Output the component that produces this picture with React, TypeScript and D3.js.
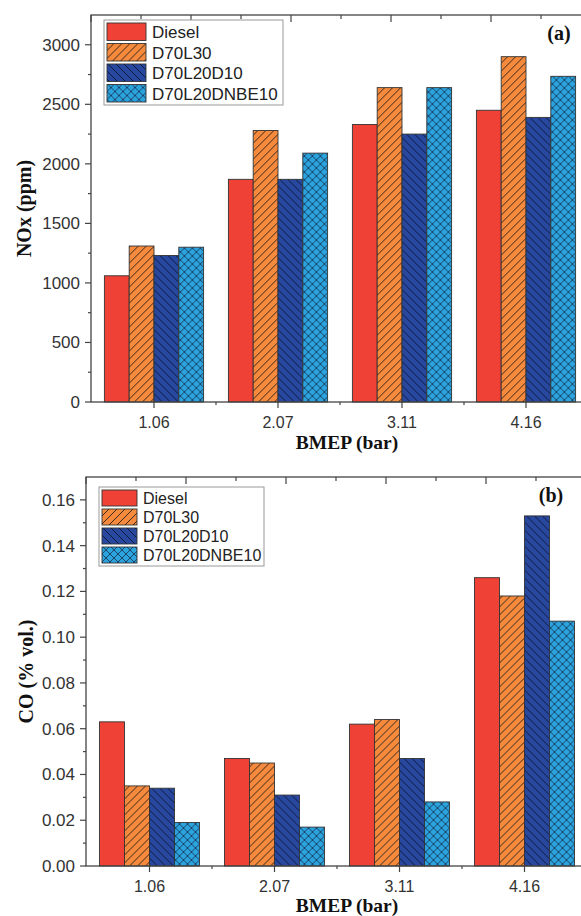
import React from 'react';
import * as d3 from 'd3';

const bmep = ['1.06', '2.07', '3.11', '4.16'];
const series = ['Diesel', 'D70L30', 'D70L20D10', 'D70L20DNBE10'];

// NOx (ppm)
const noxDiesel = [1060, 1870, 2330, 2450];
const noxD70L30 = [1310, 2280, 2640, 2900];
const noxD70L20D10 = [1230, 1870, 2250, 2390];
const noxD70L20DNBE10 = [1300, 2090, 2640, 2735];

// CO (% vol.)
const coDiesel = [0.063, 0.047, 0.062, 0.126];
const coD70L30 = [0.035, 0.045, 0.064, 0.118];
const coD70L20D10 = [0.034, 0.031, 0.047, 0.153];
const coD70L20DNBE10 = [0.019, 0.017, 0.028, 0.107];

const noxTicks = [0, 500, 1000, 1500, 2000, 2500, 3000];
const coTicks = [0, 0.02, 0.04, 0.06, 0.08, 0.1, 0.12, 0.14, 0.16];

const fills = ['#ef4136', 'url(#hatchFwd)', 'url(#hatchBack)', 'url(#hatchCross)'];
const axisColor = '#444';
const sans = '"Liberation Sans", Arial, sans-serif';
const serif = '"Liberation Serif", "Times New Roman", serif';

function Panel({ values, yMax, ticks, minorStep, fmt, left, right, top, bottom, yTitle, yTitleX, tag, tagX, tagY, legend, titleY }) {
  const x = d3.scaleBand().domain(bmep).range([left + 1, right]).paddingInner(0.2).paddingOuter(0.1);
  const xs = d3.scaleBand().domain(series).range([0, x.bandwidth()]);
  const y = d3.scaleLinear().domain([0, yMax]).range([bottom, top]);
  const topScale = d3.scaleLinear().domain([0, 5]).range([left, left + 500]);
  const minors = d3.range(minorStep, yMax, minorStep * 2);
  const boundaries = bmep.slice(1).map(c => x(c) - (x.step() - x.bandwidth()) / 2);

  return (
    <g>
      {/* bars */}
      {bmep.map((c, i) => (
        <g key={c} transform={`translate(${x(c)},0)`}>
          {series.map((s, j) => (
            <rect key={s} x={xs(s)} y={y(values[j][i])} width={xs.bandwidth()} height={bottom - y(values[j][i])}
              fill={fills[j]} stroke="#333" strokeWidth={0.9} />
          ))}
        </g>
      ))}

      {/* frame */}
      <rect x={left} y={top} width={right + 1 - left} height={bottom - top} fill="none" stroke={axisColor} strokeWidth={1.3} />

      {/* left axis */}
      {ticks.map(t => (
        <g key={t}>
          <line x1={left - 6} x2={left} y1={y(t)} y2={y(t)} stroke={axisColor} strokeWidth={1.2} />
          <text x={left - 11} y={y(t) + 6} textAnchor="end" fontFamily={sans} fontSize={17} fill="#333">{fmt(t)}</text>
        </g>
      ))}
      {minors.map(t => (
        <line key={t} x1={left - 3} x2={left} y1={y(t)} y2={y(t)} stroke={axisColor} strokeWidth={1.2} />
      ))}

      {/* bottom axis */}
      {bmep.map(c => (
        <g key={c}>
          <line x1={x(c) + x.bandwidth() / 2} x2={x(c) + x.bandwidth() / 2} y1={bottom} y2={bottom + 6} stroke={axisColor} strokeWidth={1.2} />
          <text x={x(c) + x.bandwidth() / 2} y={bottom + 25.5} textAnchor="middle" fontFamily={sans} fontSize={16} fill="#333">{c}</text>
        </g>
      ))}
      {boundaries.map((b, i) => (
        <line key={i} x1={b} x2={b} y1={bottom} y2={bottom + 3} stroke={axisColor} strokeWidth={1.2} />
      ))}

      {/* top axis ticks */}
      {d3.range(0, 5.01, 0.5).map(t => (
        <line key={t} x1={topScale(t)} x2={topScale(t)} y1={top} y2={top + (t % 1 === 0 ? 7 : 4)} stroke={axisColor} strokeWidth={1.2} />
      ))}

      {/* titles */}
      <text transform={`translate(${yTitleX},${(top + bottom) / 2}) rotate(-90)`} textAnchor="middle"
        fontFamily={serif} fontWeight="bold" fontSize={20} fill="#111">{yTitle}</text>
      <text x={347} y={titleY} textAnchor="middle" fontFamily={serif} fontWeight="bold" fontSize={19.5} fill="#111">BMEP (bar)</text>
      <text x={tagX} y={tagY} textAnchor="middle" fontFamily={serif} fontWeight="bold" fontSize={20} fill="#111">{tag}</text>

      {/* legend */}
      <g>
        <rect x={legend.x} y={legend.y} width={legend.w} height={legend.rowH * 4 + 3} fill="#fff" stroke="#999" strokeWidth={1} />
        {series.map((s, j) => (
          <g key={s} transform={`translate(${legend.x + 3},${legend.y + 2 + j * legend.rowH})`}>
            <rect x={0} y={1} width={legend.sw} height={legend.rowH - 3} fill={fills[j]} stroke="#333" strokeWidth={0.9} />
            <text x={legend.sw + 6} y={legend.rowH / 2 + legend.fs * 0.36} fontFamily={sans} fontSize={legend.fs} fill="#222">{s}</text>
          </g>
        ))}
      </g>
    </g>
  );
}

export default function App() {
  return (
    <svg width={581} height={916} style={{ position: 'absolute', left: 0, top: 0, background: '#fff' }}>
      <defs>
        <pattern id="hatchFwd" patternUnits="userSpaceOnUse" width={8} height={8}>
          <rect width={8} height={8} fill="#f58a3c" />
          <path d="M-2,2 L2,-2 M0,8 L8,0 M6,10 L10,6" stroke="#3b2a1c" strokeWidth={1} />
        </pattern>
        <pattern id="hatchBack" patternUnits="userSpaceOnUse" width={8} height={8}>
          <rect width={8} height={8} fill="#27489e" />
          <path d="M-2,6 L2,10 M0,0 L8,8 M6,-2 L10,2" stroke="#0e1b40" strokeWidth={1} />
        </pattern>
        <pattern id="hatchCross" patternUnits="userSpaceOnUse" width={8} height={8}>
          <rect width={8} height={8} fill="#2ba3dd" />
          <path d="M-2,2 L2,-2 M0,8 L8,0 M6,10 L10,6 M-2,6 L2,10 M0,0 L8,8 M6,-2 L10,2" stroke="#1a3a5c" strokeWidth={0.9} />
        </pattern>
      </defs>
      <Panel
        values={[noxDiesel, noxD70L30, noxD70L20D10, noxD70L20DNBE10]}
        yMax={3250} ticks={noxTicks} minorStep={250} fmt={d3.format('d')}
        left={91} right={588} top={15} bottom={402}
        yTitle="NOx (ppm)" yTitleX={31} tag="(a)" tagX={559} tagY={40}
        titleY={449}
        legend={{ x: 104, y: 20, w: 179, rowH: 20.5, sw: 39, fs: 17 }}
      />
      <Panel
        values={[coDiesel, coD70L30, coD70L20D10, coD70L20DNBE10]}
        yMax={0.17} ticks={coTicks} minorStep={0.01} fmt={d3.format('.2f')}
        left={86} right={587} top={477} bottom={866}
        yTitle="CO (% vol.)" yTitleX={33} tag="(b)" tagX={551} tagY={502}
        titleY={912}
        legend={{ x: 99, y: 487, w: 165, rowH: 19, sw: 35, fs: 16 }}
      />
    </svg>
  );
}
